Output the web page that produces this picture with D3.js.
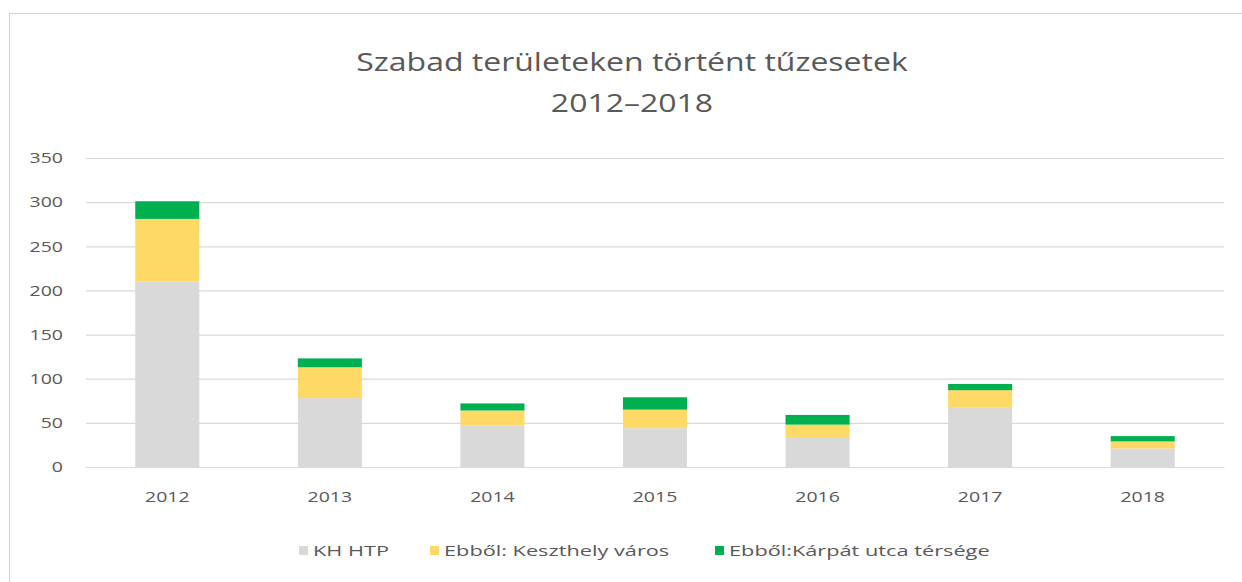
<!DOCTYPE html>
<html>
<head>
<meta charset="utf-8">
<script src="https://cdn.jsdelivr.net/npm/d3@7"></script>
<style>
  body { margin: 0; background: #fff; }
  svg text { font-family: "Open Sans", sans-serif; fill: #595959; }
</style>
</head>
<body>
<svg id="container"></svg>
<script>
/* CONSTANTS AND GLOBALS */
const width = 1242,
  height = 582,
  margin = { top: 158, right: 18, bottom: 115, left: 86 },
  stretch = 1.3; // the source picture is widened, so text is drawn wider too

/* DATA */
const years = ["2012", "2013", "2014", "2015", "2016", "2017", "2018"];
const khHtp = [210, 78, 47, 44, 34, 67, 21];
const keszthely = [71, 35, 17, 21, 14, 20, 8];
const karpat = [20, 10, 8, 14, 11, 7, 6];
const seriesNames = ["KH HTP", "Ebből: Keszthely város", "Ebből:Kárpát utca térsége"];
const seriesColors = ["#d9d9d9", "#ffd966", "#00b050"];
const yTicks = [0, 50, 100, 150, 200, 250, 300, 350];

const rows = years.map((y, i) => ({ year: y, a: khHtp[i], b: keszthely[i], c: karpat[i] }));
const stack = d3.stack().keys(["a", "b", "c"])(rows);

/* SCALES */
const xScale = d3.scaleBand()
  .domain(years)
  .range([margin.left, width - margin.right])
  .paddingInner(0.606)
  .paddingOuter(0.303);

const yScale = d3.scaleLinear()
  .domain([0, 350])
  .range([height - margin.bottom, margin.top]);

/* HTML ELEMENTS */
const svg = d3.select("#container")
  .attr("width", width)
  .attr("height", height);

// chart frame
svg.append("rect")
  .attr("x", 9.5).attr("y", 13.5)
  .attr("width", width).attr("height", height)
  .attr("fill", "none")
  .attr("stroke", "#d0d0d0");

// title
const title = ["Szabad területeken történt tűzesetek", "2012–2018"];
title.forEach((t, i) => {
  svg.append("text")
    .attr("transform", `translate(632,${71 + i * 41}) scale(1.28,1)`)
    .attr("text-anchor", "middle")
    .attr("font-size", 25)
    .text(t);
});

// gridlines + y labels
const yAxis = d3.axisLeft(yScale)
  .tickValues(yTicks)
  .tickSize(-(width - margin.left - margin.right))
  .tickPadding(0);
svg.append("g")
  .attr("transform", `translate(${margin.left},0)`)
  .call(yAxis)
  .call(g => g.select(".domain").remove())
  .call(g => g.selectAll(".tick line").attr("stroke", "#d9d9d9").attr("stroke-width", 1.2))
  .call(g => g.selectAll(".tick text")
    .attr("x", null)
    .attr("font-size", 15)
    .attr("fill", "#595959")
    .attr("transform", `translate(-23,0) scale(${stretch},1)`));

// bars
svg.append("g")
  .selectAll("g")
  .data(stack)
  .join("g")
  .attr("fill", (d, i) => seriesColors[i])
  .selectAll("rect")
  .data(d => d)
  .join("rect")
  .attr("x", d => xScale(d.data.year))
  .attr("y", d => yScale(d[1]))
  .attr("width", xScale.bandwidth())
  .attr("height", d => yScale(d[0]) - yScale(d[1]));

// x axis
const xAxis = d3.axisBottom(xScale).tickSize(0).tickPadding(24);
svg.append("g")
  .attr("transform", `translate(0,${height - margin.bottom})`)
  .call(xAxis)
  .call(g => g.select(".domain").attr("stroke", "#d9d9d9").attr("stroke-width", 1.2))
  .call(g => g.selectAll(".tick text")
    .attr("font-size", 15)
    .attr("fill", "#595959")
    .attr("transform", `scale(${stretch},1)`));

// legend
const legendX = [299, 430, 715];
const legend = svg.append("g");
seriesNames.forEach((name, i) => {
  legend.append("rect")
    .attr("x", legendX[i]).attr("y", 546)
    .attr("width", 9).attr("height", 9)
    .attr("fill", seriesColors[i]);
  legend.append("text")
    .attr("transform", `translate(${legendX[i] + 14},556) scale(1.45,1)`)
    .attr("font-size", 15)
    .text(name);
});
</script>
</body>
</html>
